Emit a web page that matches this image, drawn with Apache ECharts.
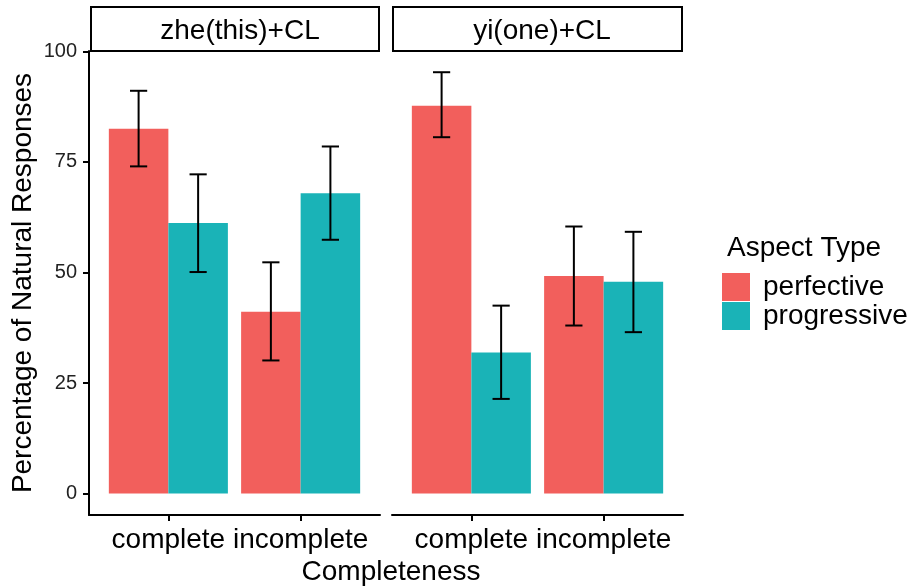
<!DOCTYPE html>
<html>
<head>
<meta charset="utf-8">
<script src="https://cdn.jsdelivr.net/npm/echarts@6/dist/echarts.min.js"></script>
<style>
  html, body { margin: 0; padding: 0; background: #fff; }
  #chart { width: 914px; height: 586px; }
</style>
</head>
<body>
<div id="chart"></div>
<script>
// 类别与面板
const categories = ['complete', 'incomplete']
const panels = ['zhe(this)+CL', 'yi(one)+CL']
const aspects = ['perfective', 'progressive']
const yTicks = [0, 25, 50, 75, 100]

// zhe(this)+CL
const zhePerfective = [82.5, 41.1]
const zhePerfectiveLow = [74.0, 30.1]
const zhePerfectiveHigh = [91.1, 52.3]
const zheProgressive = [61.2, 67.9]
const zheProgressiveLow = [50.1, 57.4]
const zheProgressiveHigh = [72.2, 78.5]

// yi(one)+CL
const yiPerfective = [87.7, 49.2]
const yiPerfectiveLow = [80.6, 38.0]
const yiPerfectiveHigh = [95.3, 60.4]
const yiProgressive = [31.9, 47.9]
const yiProgressiveLow = [21.4, 36.5]
const yiProgressiveHigh = [42.5, 59.2]

const colors = ['#F25F5C', '#1AB3B7']
const font = "'Liberation Sans', Arial, sans-serif"

// 每个柱子的宽度（坐标单位）与偏移
const barW = 0.45
const offsets = [-0.225, 0.225]
const capHalf = 0.065

const barSeries = (name, values, gridIndex, k) => ({
  name: name,
  type: 'custom',
  xAxisIndex: gridIndex,
  yAxisIndex: gridIndex,
  itemStyle: { color: colors[k] },
  data: values.map((v, i) => [i + 1, v]),
  renderItem: (params, api) => {
    const x = api.value(0) + offsets[k]
    const p0 = api.coord([x - barW / 2, 0])
    const p1 = api.coord([x + barW / 2, api.value(1)])
    return {
      type: 'rect',
      shape: { x: p0[0], y: p1[1], width: p1[0] - p0[0], height: p0[1] - p1[1] },
      style: { fill: colors[k] }
    }
  }
})

const errSeries = (low, high, gridIndex, k) => ({
  type: 'custom',
  xAxisIndex: gridIndex,
  yAxisIndex: gridIndex,
  z: 5,
  data: low.map((l, i) => [i + 1, l, high[i]]),
  renderItem: (params, api) => {
    const x = api.value(0) + offsets[k]
    const lo = api.coord([x, api.value(1)])
    const hi = api.coord([x, api.value(2)])
    const c0 = api.coord([x - capHalf, 0])[0]
    const c1 = api.coord([x + capHalf, 0])[0]
    const st = { stroke: '#000', lineWidth: 2 }
    return {
      type: 'group',
      children: [
        { type: 'line', shape: { x1: lo[0], y1: lo[1], x2: hi[0], y2: hi[1] }, style: st },
        { type: 'line', shape: { x1: c0, y1: lo[1], x2: c1, y2: lo[1] }, style: st },
        { type: 'line', shape: { x1: c0, y1: hi[1], x2: c1, y2: hi[1] }, style: st }
      ]
    }
  }
})

const gridLefts = [89, 392]
const gridW = 291

const xAxis = gridLefts.map((l, i) => ({
  type: 'value',
  gridIndex: i,
  min: 0.4,
  max: 2.6,
  splitLine: { show: false },
  axisLine: { show: true, onZero: false, lineStyle: { color: '#000', width: 2 } },
  axisTick: { show: true, length: 6, customValues: [1, 2], lineStyle: { color: '#000', width: 2 } },
  axisLabel: {
    customValues: [1, 2],
    formatter: v => categories[Math.round(v) - 1],
    fontSize: 28,
    color: '#000',
    margin: 11,
    fontFamily: font
  }
}))

const yAxis = gridLefts.map((l, i) => ({
  type: 'value',
  gridIndex: i,
  min: -4.86,
  max: 100.1,
  show: i === 0,
  name: i === 0 ? 'Percentage of Natural Responses' : '',
  nameLocation: 'middle',
  nameGap: 52,
  nameTextStyle: { fontSize: 28, color: '#000', fontFamily: font },
  splitLine: { show: false },
  axisLine: { show: true, onZero: false, lineStyle: { color: '#000', width: 2 } },
  axisTick: { show: true, length: 6, customValues: yTicks, lineStyle: { color: '#000', width: 2 } },
  axisLabel: { customValues: yTicks, fontSize: 20, color: '#222', margin: 12, fontFamily: font }
}))

const chart = echarts.init(document.getElementById('chart'))

chart.setOption({
  animation: false,
  textStyle: { fontFamily: font },
  grid: gridLefts.map(l => ({ left: l, top: 51, width: gridW, height: 464 })),
  xAxis: xAxis,
  yAxis: yAxis,
  title: [
    { text: panels[0], left: 235, top: 12, textAlign: 'center', textStyle: { fontSize: 28, fontWeight: 'normal', color: '#000', fontFamily: font } },
    { text: panels[1], left: 537, top: 12, textAlign: 'center', textStyle: { fontSize: 28, fontWeight: 'normal', color: '#000', fontFamily: font } },
    { text: 'Completeness', left: 386, top: 553, textAlign: 'center', textStyle: { fontSize: 28, fontWeight: 'normal', color: '#000', fontFamily: font } },
    { text: 'Aspect Type', left: 722, top: 229, textStyle: { fontSize: 28, fontWeight: 'normal', color: '#000', fontFamily: font } }
  ],
  legend: {
    data: aspects,
    orient: 'vertical',
    left: 722,
    top: 273,
    padding: 0,
    itemWidth: 28,
    itemHeight: 28,
    itemGap: 1,
    icon: 'rect',
    textStyle: { fontSize: 28, color: '#000', fontFamily: font, padding: [0, 0, 0, 8] }
  },
  graphic: [
    { type: 'rect', shape: { x: 91, y: 7, width: 288, height: 44 }, style: { fill: '#fff', stroke: '#000', lineWidth: 2 }, z: -1 },
    { type: 'rect', shape: { x: 393, y: 7, width: 289, height: 44 }, style: { fill: '#fff', stroke: '#000', lineWidth: 2 }, z: -1 }
  ],
  series: [
    barSeries(aspects[0], zhePerfective, 0, 0),
    barSeries(aspects[1], zheProgressive, 0, 1),
    barSeries(aspects[0], yiPerfective, 1, 0),
    barSeries(aspects[1], yiProgressive, 1, 1),
    errSeries(zhePerfectiveLow, zhePerfectiveHigh, 0, 0),
    errSeries(zheProgressiveLow, zheProgressiveHigh, 0, 1),
    errSeries(yiPerfectiveLow, yiPerfectiveHigh, 1, 0),
    errSeries(yiProgressiveLow, yiProgressiveHigh, 1, 1)
  ]
})
</script>
</body>
</html>
